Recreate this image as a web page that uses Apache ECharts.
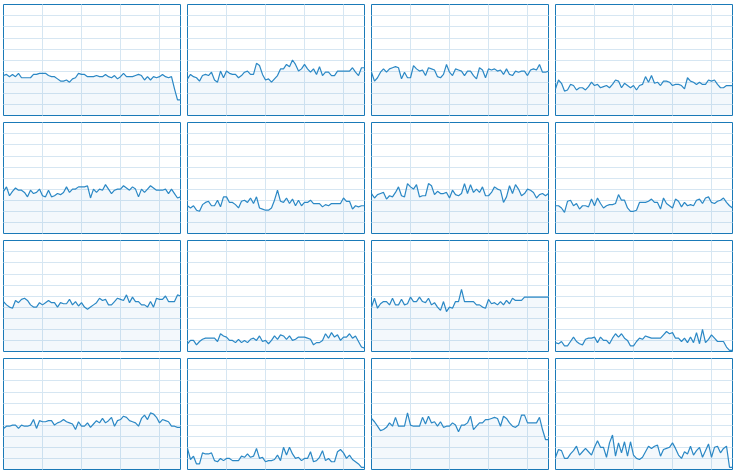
<!DOCTYPE html>
<html>
<head>
<meta charset="utf-8">
<script src="https://cdn.jsdelivr.net/npm/echarts@6/dist/echarts.min.js"></script>
<style>html,body{margin:0;padding:0;background:#fff}#c{width:738px;height:474px}</style>
</head>
<body>
<div id="c"></div>
<script>
const cpu1 = [36,37,35,37,35,38,34,34,34,34, 37,37,38,38,38,36,35,35,33,31, 31,32,30,33,34,38,37,37,35,35, 35,36,35,35,37,35,34,36,33,35, 38,35,35,35,36,37,36,32,35,32, 35,34,35,37,35,34,35,24,14,14];
const cpu2 = [33,37,35,34,31,36,37,36,39,32, 30,40,34,40,38,37,37,34,36,39, 40,37,37,47,45,37,32,33,30,33, 36,42,42,46,44,50,46,40,42,46, 42,39,42,37,44,36,39,39,36,36, 40,40,40,40,40,43,39,36,43,43];
const cpu3 = [39,31,34,39,42,39,42,43,44,43, 33,39,34,34,45,42,40,41,36,43, 42,41,35,34,37,46,39,36,42,41, 40,36,40,40,36,33,43,41,34,42, 41,42,40,41,37,42,37,36,40,39, 40,40,36,41,42,41,46,39,39,40];
const cpu4 = [24,32,29,22,23,28,27,23,25,25, 23,26,30,27,28,25,26,27,25,28, 32,31,25,29,27,25,27,23,27,28, 35,30,36,29,30,27,31,31,30,27, 28,28,27,24,34,31,30,28,30,28, 28,32,31,32,28,25,25,27,27,27];
const cpu5 = [38,42,34,38,41,39,39,37,33,39, 36,37,40,34,33,39,33,34,36,35, 37,42,37,40,40,42,42,42,43,32, 40,37,40,39,44,40,36,39,40,40, 43,41,39,42,40,33,40,37,40,43, 41,39,39,39,40,36,40,36,32,33];
const cpu6 = [25,23,25,21,20,26,28,29,25,25, 30,24,33,33,28,28,26,23,29,30, 28,32,27,33,23,22,21,21,23,30, 39,29,28,32,27,31,25,30,25,28, 28,30,27,27,27,24,26,25,27,27, 27,27,32,29,29,22,25,24,25,25];
const cpu7 = [36,32,35,36,37,31,34,33,37,42, 34,33,45,42,40,44,33,34,34,45, 43,35,38,36,36,37,32,39,35,34, 36,45,36,44,37,40,37,42,34,34, 37,42,40,39,28,33,43,36,44,40, 34,36,40,39,37,32,35,36,34,36];
const cpu8 = [25,25,23,19,29,30,25,27,22,25, 25,24,31,25,32,27,23,25,26,26, 27,35,30,30,23,20,20,21,28,28, 28,29,31,28,28,22,32,27,25,23, 31,29,24,28,25,26,25,30,31,27, 32,33,28,27,29,30,32,28,25,23];
const cpu9 = [45,42,40,39,46,44,47,48,46,42, 40,40,44,42,44,46,44,44,40,44, 43,43,47,42,45,41,44,40,38,40, 42,44,48,46,47,42,42,45,48,47, 46,51,44,49,45,45,42,42,40,45, 40,48,47,47,50,45,45,45,51,50];
const cpu10 = [7,10,10,6,9,11,12,12,12,12, 9,16,14,13,10,10,8,11,8,10, 8,11,12,10,14,9,10,7,10,14, 11,15,14,11,14,10,11,13,13,13, 12,11,6,8,8,10,16,12,17,13, 15,10,13,13,16,12,14,9,4,3];
const cpu11 = [40,48,39,43,45,45,42,48,42,42, 47,42,43,49,45,45,49,45,44,48, 42,44,40,37,45,36,40,39,45,45, 56,45,45,45,45,42,42,40,39,47, 43,44,42,45,42,46,43,48,46,46, 46,49,49,49,49,49,49,49,49,49];
const cpu12 = [8,7,9,5,5,9,13,9,7,6, 11,12,12,13,8,13,10,10,7,12, 16,13,16,12,10,5,5,9,12,11, 14,13,12,12,12,12,15,18,16,17, 12,12,9,12,8,13,8,17,7,20, 8,11,15,12,9,9,9,4,1,1];
const cpu13 = [37,39,39,40,40,37,40,39,39,40, 45,37,44,43,43,44,44,40,42,43, 45,43,42,41,36,43,39,39,42,38, 41,44,42,46,42,44,47,39,44,45, 48,47,44,43,42,39,46,49,45,51, 50,47,42,45,44,43,39,39,38,38];
const cpu14 = [19,9,12,5,5,15,14,14,15,8, 7,10,8,10,10,8,8,8,12,11, 14,11,12,19,10,11,7,8,8,9, 13,8,20,13,20,14,10,11,8,10, 10,16,7,8,11,17,8,10,7,7, 16,18,15,10,13,9,7,5,2,2];
const cpu15 = [46,43,39,35,36,38,42,39,47,39, 39,39,51,40,39,39,39,47,41,48, 42,43,39,43,38,39,39,42,40,34, 40,40,42,48,36,39,42,42,45,45, 46,47,46,39,48,46,42,39,38,40, 49,49,42,42,42,42,47,36,27,27];
const cpu16 = [11,18,17,10,10,14,17,21,13,16, 19,16,13,20,26,20,20,11,24,31, 12,24,15,25,12,25,13,10,9, 11,16,21,19,21,22,12,18,19,20, 24,19,13,10,16,14,21,13,17,20, 11,17,23,11,20,21,15,19,21,2,2];

const cores = [cpu1,cpu2,cpu3,cpu4,cpu5,cpu6,cpu7,cpu8,cpu9,cpu10,cpu11,cpu12,cpu13,cpu14,cpu15,cpu16];

const grid = [], xAxis = [], yAxis = [], series = [];
const gridLine = '#d6e6f2';
cores.forEach((vals, i) => {
  const c = i % 4, r = Math.floor(i / 4);
  grid.push({left: 3.5 + 184 * c, top: 4.5 + 118 * r, width: 177, height: 111,
    show: true, borderColor: '#1a7ab8', borderWidth: 1, backgroundColor: 'transparent', containLabel: false});
  xAxis.push({type: 'value', gridIndex: i, min: 0, max: 59, interval: 13,
    axisLine: {show: false}, axisTick: {show: false}, axisLabel: {show: false},
    splitLine: {show: true, showMinLine: false, showMaxLine: false, lineStyle: {color: gridLine, width: 1}}});
  yAxis.push({type: 'value', gridIndex: i, min: 0, max: 100, interval: 10,
    axisLine: {show: false}, axisTick: {show: false}, axisLabel: {show: false},
    splitLine: {show: true, showMinLine: false, showMaxLine: false, lineStyle: {color: gridLine, width: 1}}});
  series.push({type: 'line', xAxisIndex: i, yAxisIndex: i,
    data: vals.map((v, k) => [k * 59 / (vals.length - 1), v]),
    showSymbol: false, symbol: 'none',
    lineStyle: {color: '#2b88c5', width: 1.2},
    areaStyle: {color: 'rgba(43,136,197,0.08)'}});
});

const chart = echarts.init(document.getElementById('c'), null, {renderer: 'canvas'});
chart.setOption({animation: false, grid, xAxis, yAxis, series});
</script>
</body>
</html>
